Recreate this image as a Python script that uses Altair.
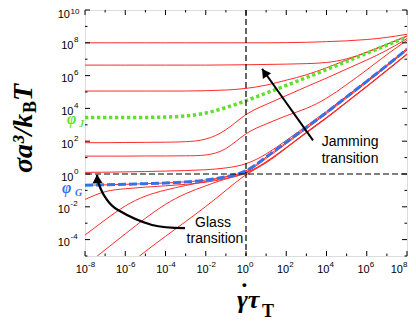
import altair as alt
import pandas as pd

# ---------------- data (log10 values) ----------------
log_rate = [-8, -7, -6, -5, -4, -3, -2, -1, 0, 1, 2, 3, 4, 5, 6, 7, 8]

curve_1 = [8.00, 8.00, 8.00, 8.00, 8.00, 8.00, 8.00, 8.00, 8.00, 8.00, 8.01, 8.03, 8.07, 8.12, 8.20, 8.33, 8.52]
curve_2 = [6.64, 6.64, 6.64, 6.64, 6.64, 6.64, 6.64, 6.65, 6.66, 6.68, 6.70, 6.73, 6.80, 7.02, 7.42, 7.90, 8.42]
curve_3 = [5.06, 5.06, 5.06, 5.06, 5.06, 5.06, 5.08, 5.12, 5.22, 5.42, 5.72, 6.05, 6.48, 6.95, 7.43, 7.92, 8.40]
curve_J = [3.44, 3.44, 3.44, 3.45, 3.47, 3.54, 3.72, 4.05, 4.47, 4.93, 5.40, 5.88, 6.37, 6.86, 7.36, 7.86, 8.36]
curve_4 = [1.91, 1.91, 1.92, 1.93, 1.94, 1.97, 2.13, 2.70, 3.62, 4.24, 4.78, 5.32, 5.85, 6.40, 6.95, 7.55, 8.25]
curve_5 = [1.09, 1.09, 1.09, 1.10, 1.10, 1.11, 1.16, 1.55, 2.45, 3.05, 3.55, 4.00, 4.62, 5.45, 6.35, 7.28, 8.15]
curve_6 = [0.10, 0.11, 0.13, 0.15, 0.18, 0.21, 0.26, 0.37, 0.63, 1.22, 2.05, 2.92, 3.82, 4.75, 5.70, 6.66, 7.65]
curve_G = [-0.69, -0.66, -0.63, -0.59, -0.55, -0.48, -0.37, -0.17, 0.20, 1.03, 1.93, 2.84, 3.75, 4.70, 5.65, 6.62, 7.61]
curve_7 = [-1.55, -1.08, -0.90, -0.80, -0.72, -0.63, -0.50, -0.28, 0.12, 0.95, 1.85, 2.76, 3.68, 4.63, 5.58, 6.56, 7.55]
curve_8 = [-3.72, -2.80, -1.95, -1.35, -0.98, -0.70, -0.45, -0.18, 0.10, 0.75, 1.62, 2.55, 3.45, 4.40, 5.36, 6.34, 7.33]
curve_9 = [-5.60, -4.62, -3.65, -2.70, -1.85, -1.20, -0.72, -0.30, 0.05, 0.72, 1.60, 2.53, 3.43, 4.38, 5.34, 6.32, 7.31]
curve_10 = [-7.60, -6.65, -5.70, -4.72, -3.80, -2.90, -1.98, -1.00, -0.05, 0.68, 1.58, 2.50, 3.40, 4.36, 5.32, 6.30, 7.29]

x_ticks = [-8, -7, -6, -5, -4, -3, -2, -1, 0, 1, 2, 3, 4, 5, 6, 7, 8]
y_ticks = [-5, -4, -3, -2, -1, 0, 1, 2, 3, 4, 5, 6, 7, 8, 9, 10]
x_label_exp = ["-8", "-6", "-4", "-2", "0", "2", "4", "6", "8"]
y_label_exp = ["-4", "-2", "0", "2", "4", "6", "8", "10"]

ref_x = [0]
ref_y = [0]

jam_arrow_lx = [3.33, 0.80]
jam_arrow_ly = [2.05, 6.42]
glass_arrow_lx = [-3.03, -4.67, -6.36, -7.00, -7.35, -7.40]
glass_arrow_ly = [-3.30, -3.11, -2.20, -1.41, -0.50, -0.05]
head_lx = [0.92, -7.39]
head_ly = [6.19, -0.30]
head_angle = [325, 357]

ann_text = ["Jamming", "transition", "Glass", "transition"]
ann_lx = [5.17, 5.17, -1.64, -1.54]
ann_ly = [1.68, 0.65, -3.24, -4.21]

y_title_main, y_title_sub, y_title_end = "σa³/k", "B", "T"
x_title_main, x_title_sub = "γτ", "T"
phi_main = "φ"
phi_J_sub, phi_G_sub = "J", "G"

# ---------------- build tables ----------------
red_series = {"c1": curve_1, "c2": curve_2, "c3": curve_3, "c4": curve_4, "c5": curve_5,
              "c6": curve_6, "cG": curve_G, "c7": curve_7, "c8": curve_8, "c9": curve_9,
              "c10": curve_10}
df_red = pd.DataFrame([{"series": k, "lx": x, "ly": y}
                       for k, v in red_series.items() for x, y in zip(log_rate, v)])
df_J = pd.DataFrame({"lx": log_rate, "ly": curve_J})
df_G = pd.DataFrame({"lx": log_rate, "ly": curve_G})

W, H = 322, 246
xs = alt.Scale(domain=[-8, 8], nice=False, zero=False)
ys = alt.Scale(domain=[-5, 10], nice=False, zero=False)


def X(f="lx"):
    return alt.X(f"{f}:Q", scale=xs, axis=None)


def Y(f="ly"):
    return alt.Y(f"{f}:Q", scale=ys, axis=None)


RED = "#ff2b2b"
GREEN = "#5ee02c"
BLUE = "#3a6fe6"
INTERP = "natural"

red = alt.Chart(df_red).mark_line(color=RED, strokeWidth=1, interpolate=INTERP, clip=True).encode(
    x=X(), y=Y(), detail="series:N")
green = alt.Chart(df_J).mark_line(color=GREEN, strokeWidth=3.5, strokeDash=[3.3, 2.7],
                                  interpolate=INTERP, clip=True).encode(x=X(), y=Y())
blue = alt.Chart(df_G).mark_line(color=BLUE, strokeWidth=3, strokeDash=[8, 3],
                                 interpolate=INTERP, clip=True).encode(x=X(), y=Y())

vref = alt.Chart(pd.DataFrame({"v": ref_x})).mark_rule(color="black", strokeWidth=1.2,
                                                         strokeDash=[6, 3]).encode(x=X("v"))
href = alt.Chart(pd.DataFrame({"v": ref_y})).mark_rule(color="black", strokeWidth=1.2,
                                                         strokeDash=[6, 3]).encode(y=Y("v"))

# ticks (inward)
dfx_major = pd.DataFrame({"v": [t for t in x_ticks if t % 2 == 0]})
dfx_minor = pd.DataFrame({"v": [t for t in x_ticks if t % 2 != 0]})
dfy_major = pd.DataFrame({"v": [t for t in y_ticks if t % 2 == 0]})
dfy_minor = pd.DataFrame({"v": [t for t in y_ticks if t % 2 != 0]})

tick_layers = []
for d, L in ((dfx_major, 5), (dfx_minor, 2.5)):
    tick_layers.append(alt.Chart(d).mark_rule(color="black", strokeWidth=1).encode(
        x=X("v"), y=alt.value(H), y2=alt.value(H - L)))
    tick_layers.append(alt.Chart(d).mark_rule(color="black", strokeWidth=1).encode(
        x=X("v"), y=alt.value(0), y2=alt.value(L)))
for d, L in ((dfy_major, 5), (dfy_minor, 2.5)):
    tick_layers.append(alt.Chart(d).mark_rule(color="black", strokeWidth=1).encode(
        y=Y("v"), x=alt.value(0), x2=alt.value(L)))
    tick_layers.append(alt.Chart(d).mark_rule(color="black", strokeWidth=1).encode(
        y=Y("v"), x=alt.value(W), x2=alt.value(W - L)))

# tick labels (x): the last one is nudged left so it stays inside the page
dfxl = pd.DataFrame({"v": [int(e) for e in x_label_exp], "e": x_label_exp})
xl_layers = []
for d, off in ((dfxl[dfxl["v"] < 8], 3), (dfxl[dfxl["v"] == 8], -4)):
    xl_layers.append(alt.Chart(d).mark_text(align="right", baseline="alphabetic", dx=off,
                                            font="Liberation Sans", fontSize=11, color="black").encode(
        x=X("v"), y=alt.value(H + 17), text=alt.value("10")))
    xl_layers.append(alt.Chart(d).mark_text(align="left", baseline="alphabetic", dx=off,
                                            font="Liberation Sans", fontSize=8, color="black").encode(
        x=X("v"), y=alt.value(H + 11), text="e:N"))

# tick labels (y)
dfyl = pd.DataFrame({"v": [int(e) for e in y_label_exp], "e": y_label_exp})
ylab_layers = []
for d, xe, bdy, edy in ((dfyl[dfyl["e"].str.len() == 1], -11.5, 6.5, -0.5),
                        (dfyl[(dfyl["e"].str.len() == 2) & (dfyl["v"] < 10)], -15, 6.5, -0.5),
                        (dfyl[dfyl["v"] == 10], -15, 7.5, 3.5)):
    ylab_layers.append(alt.Chart(d).mark_text(align="right", baseline="alphabetic", dy=bdy,
                                              font="Liberation Sans", fontSize=11, color="black").encode(
        x=alt.value(xe), y=Y("v"), text=alt.value("10")))
    ylab_layers.append(alt.Chart(d).mark_text(align="left", baseline="alphabetic", dy=edy,
                                              font="Liberation Sans", fontSize=8, color="black").encode(
        x=alt.value(xe + 0.5), y=Y("v"), text="e:N"))

# arrows
df_jam = pd.DataFrame({"lx": jam_arrow_lx, "ly": jam_arrow_ly, "i": [0, 1]})
df_glass = pd.DataFrame({"lx": glass_arrow_lx, "ly": glass_arrow_ly, "i": list(range(len(glass_arrow_lx)))})
jam_line = alt.Chart(df_jam).mark_line(color="black", strokeWidth=2).encode(x=X(), y=Y(), order="i:Q")
glass_line = alt.Chart(df_glass).mark_line(color="black", strokeWidth=2.3, interpolate="cardinal").encode(
    x=X(), y=Y(), order="i:Q")
heads = []
for hx, hy, ha in zip(head_lx, head_ly, head_angle):
    heads.append(alt.Chart(pd.DataFrame({"lx": [hx], "ly": [hy]})).mark_point(
        shape="triangle-up", filled=True, color="black", opacity=1, size=100, angle=ha).encode(x=X(), y=Y()))

df_ann = pd.DataFrame({"lx": ann_lx, "ly": ann_ly, "t": ann_text})
ann = alt.Chart(df_ann).mark_text(align="center", baseline="alphabetic", font="Liberation Sans",
                                   fontSize=14, color="black").encode(x=X(), y=Y(), text="t:N")


# titles and phi labels
def txt(s, x, y, size, color="black", italic=True, bold=True, angle=0, font="Liberation Serif"):
    kw = dict(align="left", baseline="alphabetic", font=font, fontSize=size, color=color)
    if italic:
        kw["fontStyle"] = "italic"
    if bold:
        kw["fontWeight"] = "bold"
    if angle:
        kw["angle"] = angle
    return alt.Chart(pd.DataFrame({"t": [s]})).mark_text(**kw).encode(
        x=alt.value(x), y=alt.value(y), text="t:N")


titles = [
    txt(y_title_main, -53, 163, 28, angle=270),
    txt(y_title_sub, -49, 103, 18, angle=270, italic=False),
    txt(y_title_end, -53, 91, 28, angle=270),
    txt(x_title_main, 152, 298, 26),
    txt("˙", 155, 291, 26, italic=False),
    txt(x_title_sub, 177, 307, 18, italic=False),
    txt(phi_main, -18, 114, 16, color=GREEN),
    txt(phi_J_sub, -6, 117, 10, color=GREEN),
    txt(phi_main, -23, 183, 16, color=BLUE),
    txt(phi_G_sub, -10, 186, 10, color=BLUE),
]

chart = alt.layer(
    red, green, blue, vref, href, *tick_layers, *xl_layers, *ylab_layers,
    jam_line, glass_line, *heads, ann, *titles
).properties(
    width=W, height=H,
    autosize=alt.AutoSizeParams(type="none"),
    padding={"left": 77, "top": 2, "right": 1, "bottom": 64},
).configure_view(stroke="black", strokeWidth=1.5).configure(background="white")

chart.save("out.html", embed_options={"renderer": "svg", "actions": False})
